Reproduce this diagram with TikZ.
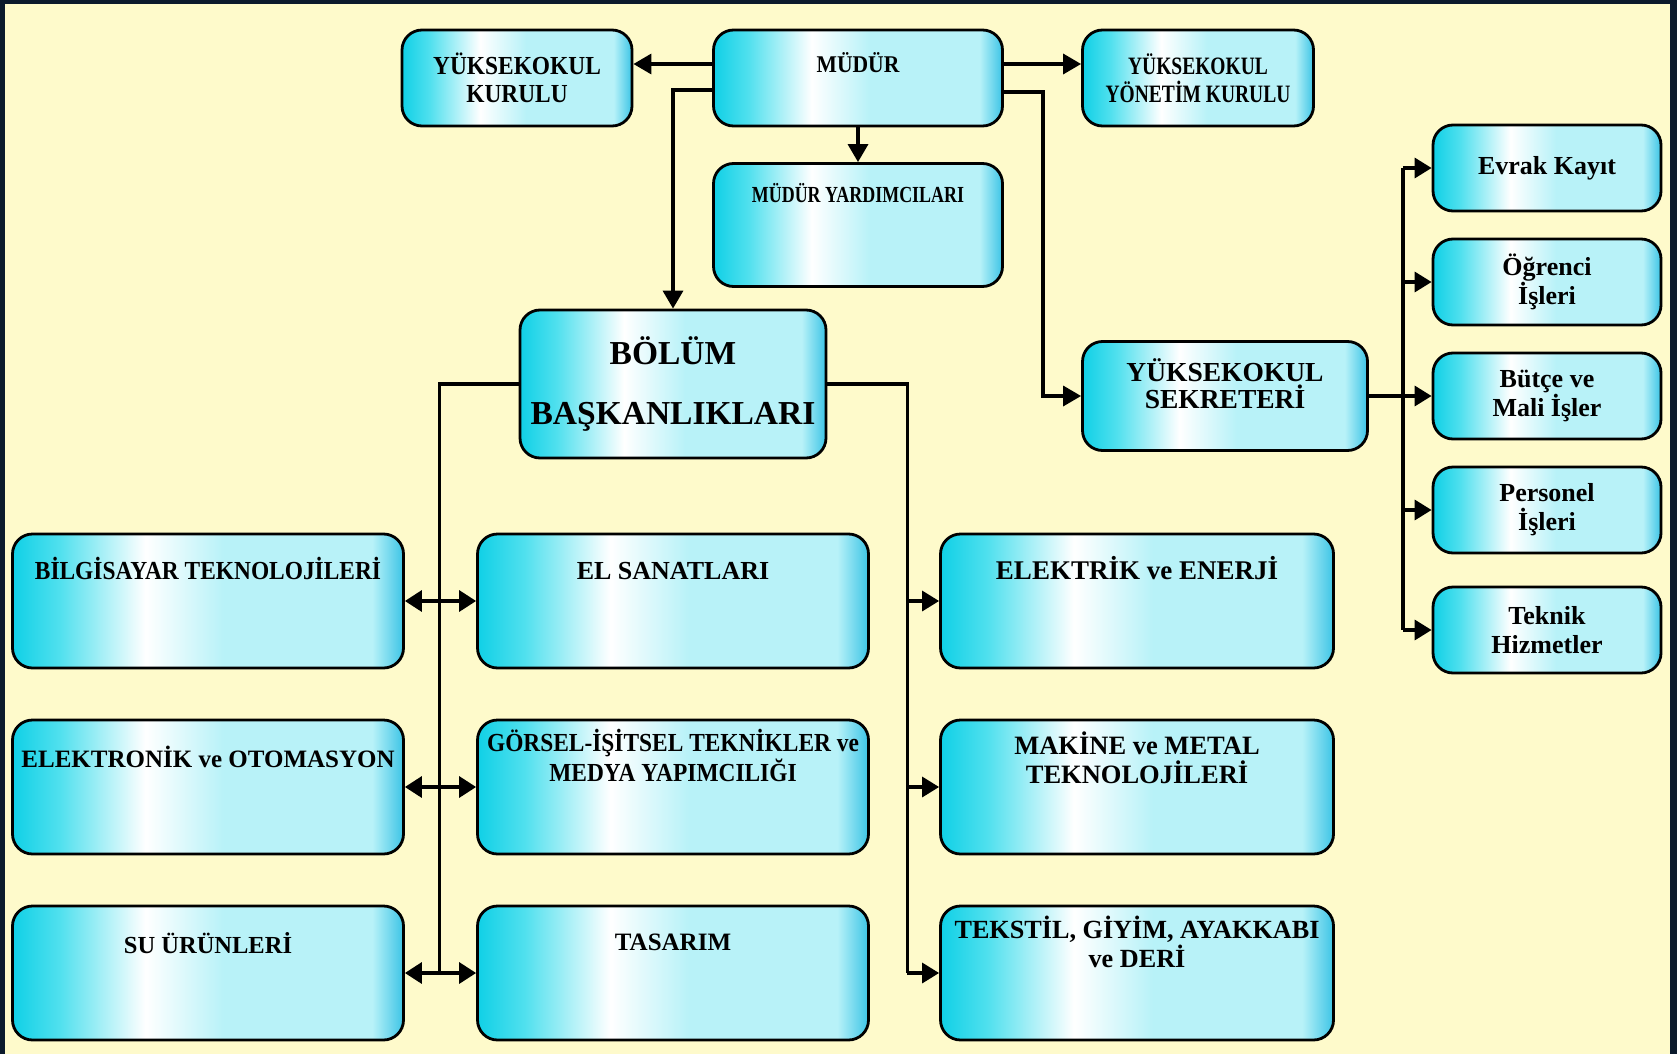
\documentclass[tikz,border=0pt]{standalone}
\usepackage{fontspec}
\setmainfont{Liberation Serif}
\newfontfamily\dar[FakeStretch=0.9]{Liberation Serif}
\newfontfamily\cokdar[FakeStretch=0.78]{Liberation Serif}
\usetikzlibrary{arrows.meta,positioning}

\definecolor{zemin}{HTML}{FEFACB}
\definecolor{cerceve}{HTML}{0B1A2C}
\definecolor{camgobegi}{HTML}{10D0E6}
\definecolor{orta}{HTML}{50E0EE}
\definecolor{acik}{HTML}{B8F2F8}
\definecolor{koyu}{HTML}{3CC4E6}

\pgfdeclarehorizontalshading{kutugolge}{100bp}{color(0bp)=(camgobegi); color(25bp)=(camgobegi); color(31bp)=(orta); color(42bp)=(white); color(52bp)=(acik); color(71bp)=(acik); color(75bp)=(koyu); color(100bp)=(koyu)}

\tikzset{
  kutu/.style={ draw=black, line width=2.8pt, rounded corners=20pt, shade, shading=kutugolge, inner sep=0pt, align=center },
  bolumkutu/.style={ kutu, minimum width=391pt, minimum height=134pt },
  sagkutu/.style={ kutu, minimum width=228pt, minimum height=86pt, font=\fontsize{26}{29}\selectfont\bfseries },
  yazi/.style={ inner sep=0pt, align=center, font=\fontsize{26}{30}\selectfont\bfseries, execute at begin node=\vphantom{İ} },
  ok/.style={ -{Triangle[ length=18pt, width=20pt ]}, line width=3.4pt },
  okk/.style={ -{Triangle[ length=17pt, width=20pt ]}, line width=3.3pt },
  cift/.style={ {Triangle[ length=17pt, width=21pt ]}-{Triangle[ length=17pt, width=21pt ]}, line width=3.3pt },
  cizgi/.style={ line width=3.2pt }
}

\begin{document}
\begin{tikzpicture}[ x=1pt, y=1pt ]
        % zemin
        \useasboundingbox ( 0, 0 ) rectangle ( 1677, -1054 );
        \fill [ cerceve ] ( 0, 0 ) rectangle ( 1677, -1054 );
        \fill [ zemin ] ( 5, -4 ) rectangle ( 1670, -1054 );

        % yönetim
        \node [ kutu, minimum width=289pt, minimum height=96pt ] (mudur) at ( 858, -78 ) {};
        \node [ yazi, font=\dar\fontsize{24}{27}\selectfont\bfseries, below=23pt of mudur.north ] (mudurY) {MÜDÜR};
        \node [ kutu, minimum width=230pt, minimum height=96pt, font=\dar\fontsize{26}{28}\selectfont\bfseries ] (ykk) at ( 517, -78 ) {YÜKSEKOKUL\\KURULU};
        \node [ kutu, minimum width=231pt, minimum height=96pt, font=\cokdar\fontsize{25}{28}\selectfont\bfseries ] (yyk) at ( 1198, -78 ) {YÜKSEKOKUL\\YÖNETİM KURULU};
        \node [ kutu, minimum width=289pt, minimum height=123pt ] (myard) at ( 858, -225 ) {};
        \node [ yazi, font=\cokdar\fontsize{23}{27}\selectfont\bfseries, below=20pt of myard.north ] (myardY) {MÜDÜR YARDIMCILARI};
        \node [ kutu, minimum width=306pt, minimum height=148pt, font=\fontsize{33.5}{60}\selectfont\bfseries ] (bolum) at ( 673, -384 ) {BÖLÜM\\BAŞKANLIKLARI};
        \node [ kutu, minimum width=285pt, minimum height=109pt ] (sekr) at ( 1225, -396 ) {};
        \node [ yazi, font=\fontsize{27.5}{27}\selectfont\bfseries, below=18pt of sekr.north ] (sekrY) {YÜKSEKOKUL\\SEKRETERİ};

        % sekreterlik birimleri
        \node [ sagkutu ] (evrak) at ( 1547, -168 ) {Evrak Kayıt};
        \node [ sagkutu ] (ogrenci) at ( 1547, -282 ) {Öğrenci\\İşleri};
        \node [ sagkutu ] (butce) at ( 1547, -396 ) {Bütçe ve\\Mali İşler};
        \node [ sagkutu ] (personel) at ( 1547, -510 ) {Personel\\İşleri};
        \node [ sagkutu ] (teknik) at ( 1547, -630 ) {Teknik\\Hizmetler};

        % bölümler
        \node [ bolumkutu ] (bilgisayar) at ( 208, -601 ) {};
        \node [ yazi, font=\dar\fontsize{26}{30}\selectfont\bfseries, below=24pt of bilgisayar.north ] (bilgisayarY) {BİLGİSAYAR TEKNOLOJİLERİ};
        \node [ bolumkutu ] (elektronik) at ( 208, -787 ) {};
        \node [ yazi, font=\fontsize{25}{30}\selectfont\bfseries, below=27pt of elektronik.north ] (elektronikY) {ELEKTRONİK ve OTOMASYON};
        \node [ bolumkutu ] (suurun) at ( 208, -973 ) {};
        \node [ yazi, font=\fontsize{24.5}{30}\selectfont\bfseries, below=28pt of suurun.north ] (suurunY) {SU ÜRÜNLERİ};

        \node [ bolumkutu ] (elsanat) at ( 673, -601 ) {};
        \node [ yazi, below=24pt of elsanat.north ] (elsanatY) {EL SANATLARI};
        \node [ bolumkutu ] (gorsel) at ( 673, -787 ) {};
        \node [ yazi, font=\dar\fontsize{26}{30}\selectfont\bfseries, below=10pt of gorsel.north ] (gorselY) {GÖRSEL-İŞİTSEL TEKNİKLER ve\\MEDYA YAPIMCILIĞI};
        \node [ bolumkutu ] (tasarim) at ( 673, -973 ) {};
        \node [ yazi, font=\fontsize{25}{30}\selectfont\bfseries, below=24pt of tasarim.north ] (tasarimY) {TASARIM};

        \node [ bolumkutu, minimum width=393pt ] (elektrik) at ( 1137, -601 ) {};
        \node [ yazi, font=\fontsize{27}{30}\selectfont\bfseries, below=24pt of elektrik.north ] (elektrikY) {ELEKTRİK ve ENERJİ};
        \node [ bolumkutu, minimum width=393pt ] (makine) at ( 1137, -787 ) {};
        \node [ yazi, font=\fontsize{26.5}{29}\selectfont\bfseries, below=13pt of makine.north ] (makineY) {MAKİNE ve METAL\\TEKNOLOJİLERİ};
        \node [ bolumkutu, minimum width=393pt ] (tekstil) at ( 1137, -973 ) {};
        \node [ yazi, font=\fontsize{26.2}{29}\selectfont\bfseries, below=11pt of tekstil.north ] (tekstilY) {TEKSTİL, GİYİM, AYAKKABI\\ve DERİ};

        % müdürden çıkanlar
        \draw [ ok ] ([yshift=14pt]mudur.west) -- ([yshift=14pt]ykk.east);
        \draw [ ok ] ([yshift=-12pt]mudur.west) -| (bolum.north);
        \draw [ ok ] ([yshift=14pt]mudur.east) -- ([yshift=14pt]yyk.west);
        \draw [ ok ] ([yshift=-14pt]mudur.east) -- ++( 39, 0 ) |- (sekr.west);
        \draw [ ok ] (mudur.south) -- (myard.north);

        % sekreter
        \draw [ line width=3.3pt ] (sekr.east) -- ++( 34, 0 ) coordinate (sekhat);
        \draw [ cizgi ] (sekhat|-evrak) -- (sekhat|-teknik);
        \draw [ okk ] (sekhat|-evrak) -- (evrak.west);
        \draw [ okk ] (sekhat|-ogrenci) -- (ogrenci.west);
        \draw [ okk ] (sekhat) -- (butce.west);
        \draw [ okk ] (sekhat|-personel) -- (personel.west);
        \draw [ okk ] (sekhat|-teknik) -- (teknik.west);

        % sol hat
        \draw [ cizgi ] (bolum.west) -- ++( -79, 0 ) coordinate (solhat) -- (solhat|-suurun);
        \draw [ cift ] (bilgisayar.east) -- (elsanat.west);
        \draw [ cift ] (elektronik.east) -- (gorsel.west);
        \draw [ cift ] (suurun.east) -- (tasarim.west);

        % sağ hat
        \draw [ cizgi ] (bolum.east) -- ++( 80, 0 ) coordinate (saghat) -- (saghat|-tekstil);
        \draw [ okk ] (saghat|-elektrik) -- (elektrik.west);
        \draw [ okk ] (saghat|-makine) -- (makine.west);
        \draw [ okk ] (saghat|-tekstil) -- (tekstil.west);
    \end{tikzpicture}
\end{document}
